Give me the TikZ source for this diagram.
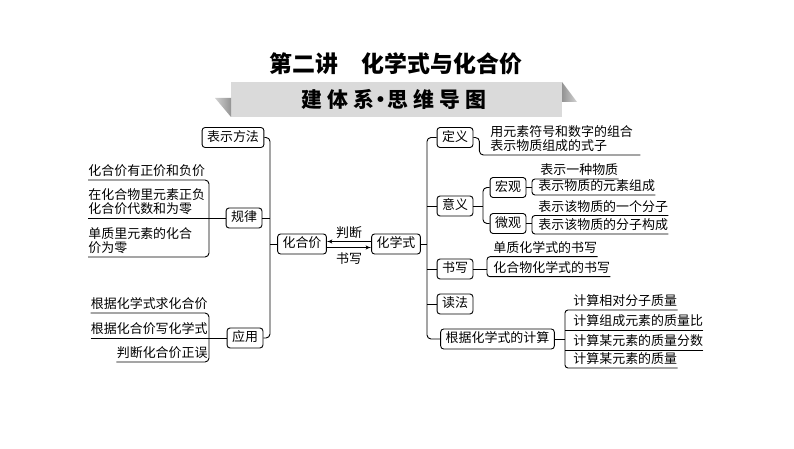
\documentclass[tikz,border=0pt]{standalone}
\usepackage{fontspec}
\setmainfont{Noto Sans CJK SC}
\newfontfamily\bannerfont{Noto Sans CJK SC}[LetterSpace=25]
\usepackage{tikz}
\usetikzlibrary{arrows, calc, shapes}

\definecolor{bannergray}{RGB}{218,218,218}
\newcommand{\bodyfont}{\fontsize{13}{14.5}\selectfont}

\begin{document}
\begin{tikzpicture}[>=latex',line join=bevel,
    box/.style={draw, rounded corners=3bp, inner xsep=5bp, inner ysep=3bp,
      text height=11bp, text depth=3bp, font=\bodyfont},
    leaf/.style={inner xsep=0bp, inner ysep=1bp, font=\bodyfont},
    oneline/.style={leaf, text height=11bp, text depth=3bp},
    twoline/.style={leaf, align=left, inner ysep=2.5bp},
    link/.style={rounded corners=4bp}]
  \pgfsetlinewidth{.9bp}
  \useasboundingbox (0bp,0bp) rectangle (794bp,449bp);
%%
\pgfsetcolor{black}
  % Title and banner
  \node[font=\fontsize{23}{26}\selectfont\bfseries] (title) at (396bp,385bp) {第二讲\hspace{1em}化学式与化合价};
  \fill[bannergray] (231bp,332bp) rectangle (562bp,367bp);
  \shade[left color=gray!35, right color=gray!85] (215bp,351bp) -- (231bp,351bp) -- (231bp,332bp) -- cycle;
  \shade[left color=gray!85, right color=gray!35] (562bp,367bp) -- (562bp,347bp) -- (577bp,347bp) -- cycle;
  \node[font=\bannerfont\fontsize{21}{24}\selectfont\bfseries] (banner) at (394bp,350bp) {建体系\hspace{-.18em}·\hspace{-.22em}思维导图};
%
  % Node: 化合价
  \node[box] (huahejia) at (302bp,205bp) {化合价};
  % Node: 化学式
  \node[box] (huaxueshi) at (396bp,205bp) {化学式};
  % Node: 表示方法
  \node[box] (biaoshi) at (233bp,311.5bp) {表示方法};
  % Node: 规律
  \node[box] (guilv) at (244bp,231bp) {规律};
  % Node: 应用
  \node[box] (yingyong) at (245bp,111bp) {应用};
  % Node: 定义
  \node[box] (dingyi) at (455bp,311.5bp) {定义};
  % Node: 意义
  \node[box] (yiyi) at (455bp,243bp) {意义};
  % Node: 宏观
  \node[box] (hongguan) at (508bp,261.5bp) {宏观};
  % Node: 微观
  \node[box] (weiguan) at (508bp,225.5bp) {微观};
  % Node: 书写
  \node[box] (shuxie) at (455bp,180bp) {书写};
  % Node: 读法
  \node[box] (dufa) at (455bp,145bp) {读法};
  % Node: 根据化学式的计算
  \node[box] (jisuan) at (497.5bp,110bp) {根据化学式的计算};
%
  % Leaves: 规律
  \node[oneline, anchor=south west] (guilv1) at (88bp,269bp) {化合价有正价和负价};
  \node[twoline, anchor=south west] (guilv2) at (88bp,231bp) {在化合物里元素正负\\化合价代数和为零};
  \node[twoline, anchor=south west] (guilv3) at (88bp,192bp) {单质里元素的化合\\价为零};
  % Leaves: 应用
  \node[oneline, anchor=south east] (yingyong1) at (208bp,136bp) {根据化学式求化合价};
  \node[oneline, anchor=south east] (yingyong2) at (208bp,111bp) {根据化合价写化学式};
  \node[oneline, anchor=south east] (yingyong3) at (208bp,87bp) {判断化合价正误};
  % Leaves: 定义
  \node[twoline, anchor=south west, inner xsep=7bp] (dingyi1) at (483bp,294bp) {用元素符号和数字的组合\\表示物质组成的式子};
  % Leaves: 宏观, 微观
  \node[oneline, anchor=south west] (hongguan1) at (540bp,270bp) {表示一种物质};
  \node[oneline, anchor=south west] (hongguan2) at (538bp,254bp) {表示物质的元素组成};
  \node[oneline, anchor=south west] (weiguan1) at (538bp,233.5bp) {表示该物质的一个分子};
  \node[oneline, anchor=south west] (weiguan2) at (538bp,215bp) {表示该物质的分子构成};
  % Leaves: 书写
  \node[oneline, anchor=south west] (shuxie1) at (493bp,192.3bp) {单质化学式的书写};
  \node[oneline, anchor=south west] (shuxie2) at (493bp,172.3bp) {化合物化学式的书写};
  % Leaves: 计算
  \node[oneline, anchor=south west] (jisuan1) at (573bp,139bp) {计算相对分子质量};
  \node[oneline, anchor=south west] (jisuan2) at (573bp,119bp) {计算组成元素的质量比};
  \node[oneline, anchor=south west] (jisuan3) at (573bp,99bp) {计算某元素的质量分数};
  \node[oneline, anchor=south west] (jisuan4) at (573bp,81bp) {计算某元素的质量};
%
  % Junctions
  \coordinate (jm) at (270bp,205bp);
  \coordinate (jr) at (427bp,205bp);
  \coordinate (jl) at (209bp,231bp);
  \coordinate (ja) at (209bp,111bp);
  \coordinate (jy) at (483bp,243bp);
  \coordinate (jh) at (532bp,261.5bp);
  \coordinate (jw) at (532bp,225.5bp);
  \coordinate (jx) at (487bp,180bp);
  \coordinate (jc) at (565bp,110bp);
%
  % Edge: 化学式 -- 化合价
  \draw [->] ([yshift=2.5bp]huaxueshi.west) -- node[above=1bp, font=\bodyfont, inner sep=1bp] (panduan) {判断} ([yshift=2.5bp]huahejia.east);
  \draw [->] ([yshift=-3.5bp]huahejia.east) -- node[below=4bp, font=\bodyfont, inner sep=1bp] (shuxielabel) {书写} ([yshift=-3.5bp]huaxueshi.west);
  % Edge: 化合价 -- left branches
  \draw [link] (biaoshi.east) -| (jm) |- (yingyong.east);
  \draw [] (guilv.east) -- (guilv.east -| jm);
  \draw [] (jm) -- (huahejia.west);
  % Edge: 规律 -- leaves
  \draw [link] (guilv1.south west) -| (jl) |- (guilv3.south west);
  \draw [] (guilv2.south west) -- (guilv.west);
  % Edge: 应用 -- leaves
  \draw [link] (yingyong1.south west) -| (ja) |- (yingyong3.south west);
  \draw [] (yingyong2.south west) -- (yingyong.west);
  % Edge: 化学式 -- right branches
  \draw [link] (dingyi.west) -| (jr) |- (jisuan.west);
  \draw [] (huaxueshi.east) -- (jr);
  \draw [] (yiyi.west) -- (yiyi.west -| jr);
  \draw [] (shuxie.west) -- (shuxie.west -| jr);
  \draw [] (dufa.west) -- (dufa.west -| jr);
  % Edge: 定义 -- leaf
  \draw [link] (dingyi.east) -- ++(6bp,0bp) |- (dingyi1.south east);
  % Edge: 意义 -- 宏观, 微观
  \draw [link] (hongguan.west) -| (jy) |- (weiguan.west);
  \draw [] (yiyi.east) -- (jy);
  % Edge: 宏观 -- leaves
  \draw [rounded corners=3bp] (hongguan1.south east) -| (jh) |- (hongguan2.south east);
  \draw [] (hongguan.east) -- (jh);
  % Edge: 微观 -- leaves
  \draw [rounded corners=3bp] (weiguan1.south east) -| (jw) |- (weiguan2.south east);
  \draw [] (weiguan.east) -- (jw);
  % Edge: 书写 -- leaves
  \draw [rounded corners=3bp] (shuxie1.south east) -| (jx) |- (shuxie2.south east);
  \draw [] (shuxie.east) -- (jx);
  % Edge: 计算 -- leaves
  \draw [rounded corners=3bp] (jisuan1.south east) -| (jc) |- (jisuan4.south east);
  \draw [] (jisuan2.south east) -- (jisuan2.south east -| jc);
  \draw [] (jisuan3.south east) -- (jisuan3.south east -| jc);
  \draw [] (jisuan.east) -- (jc);
%
\end{tikzpicture}
\end{document}
